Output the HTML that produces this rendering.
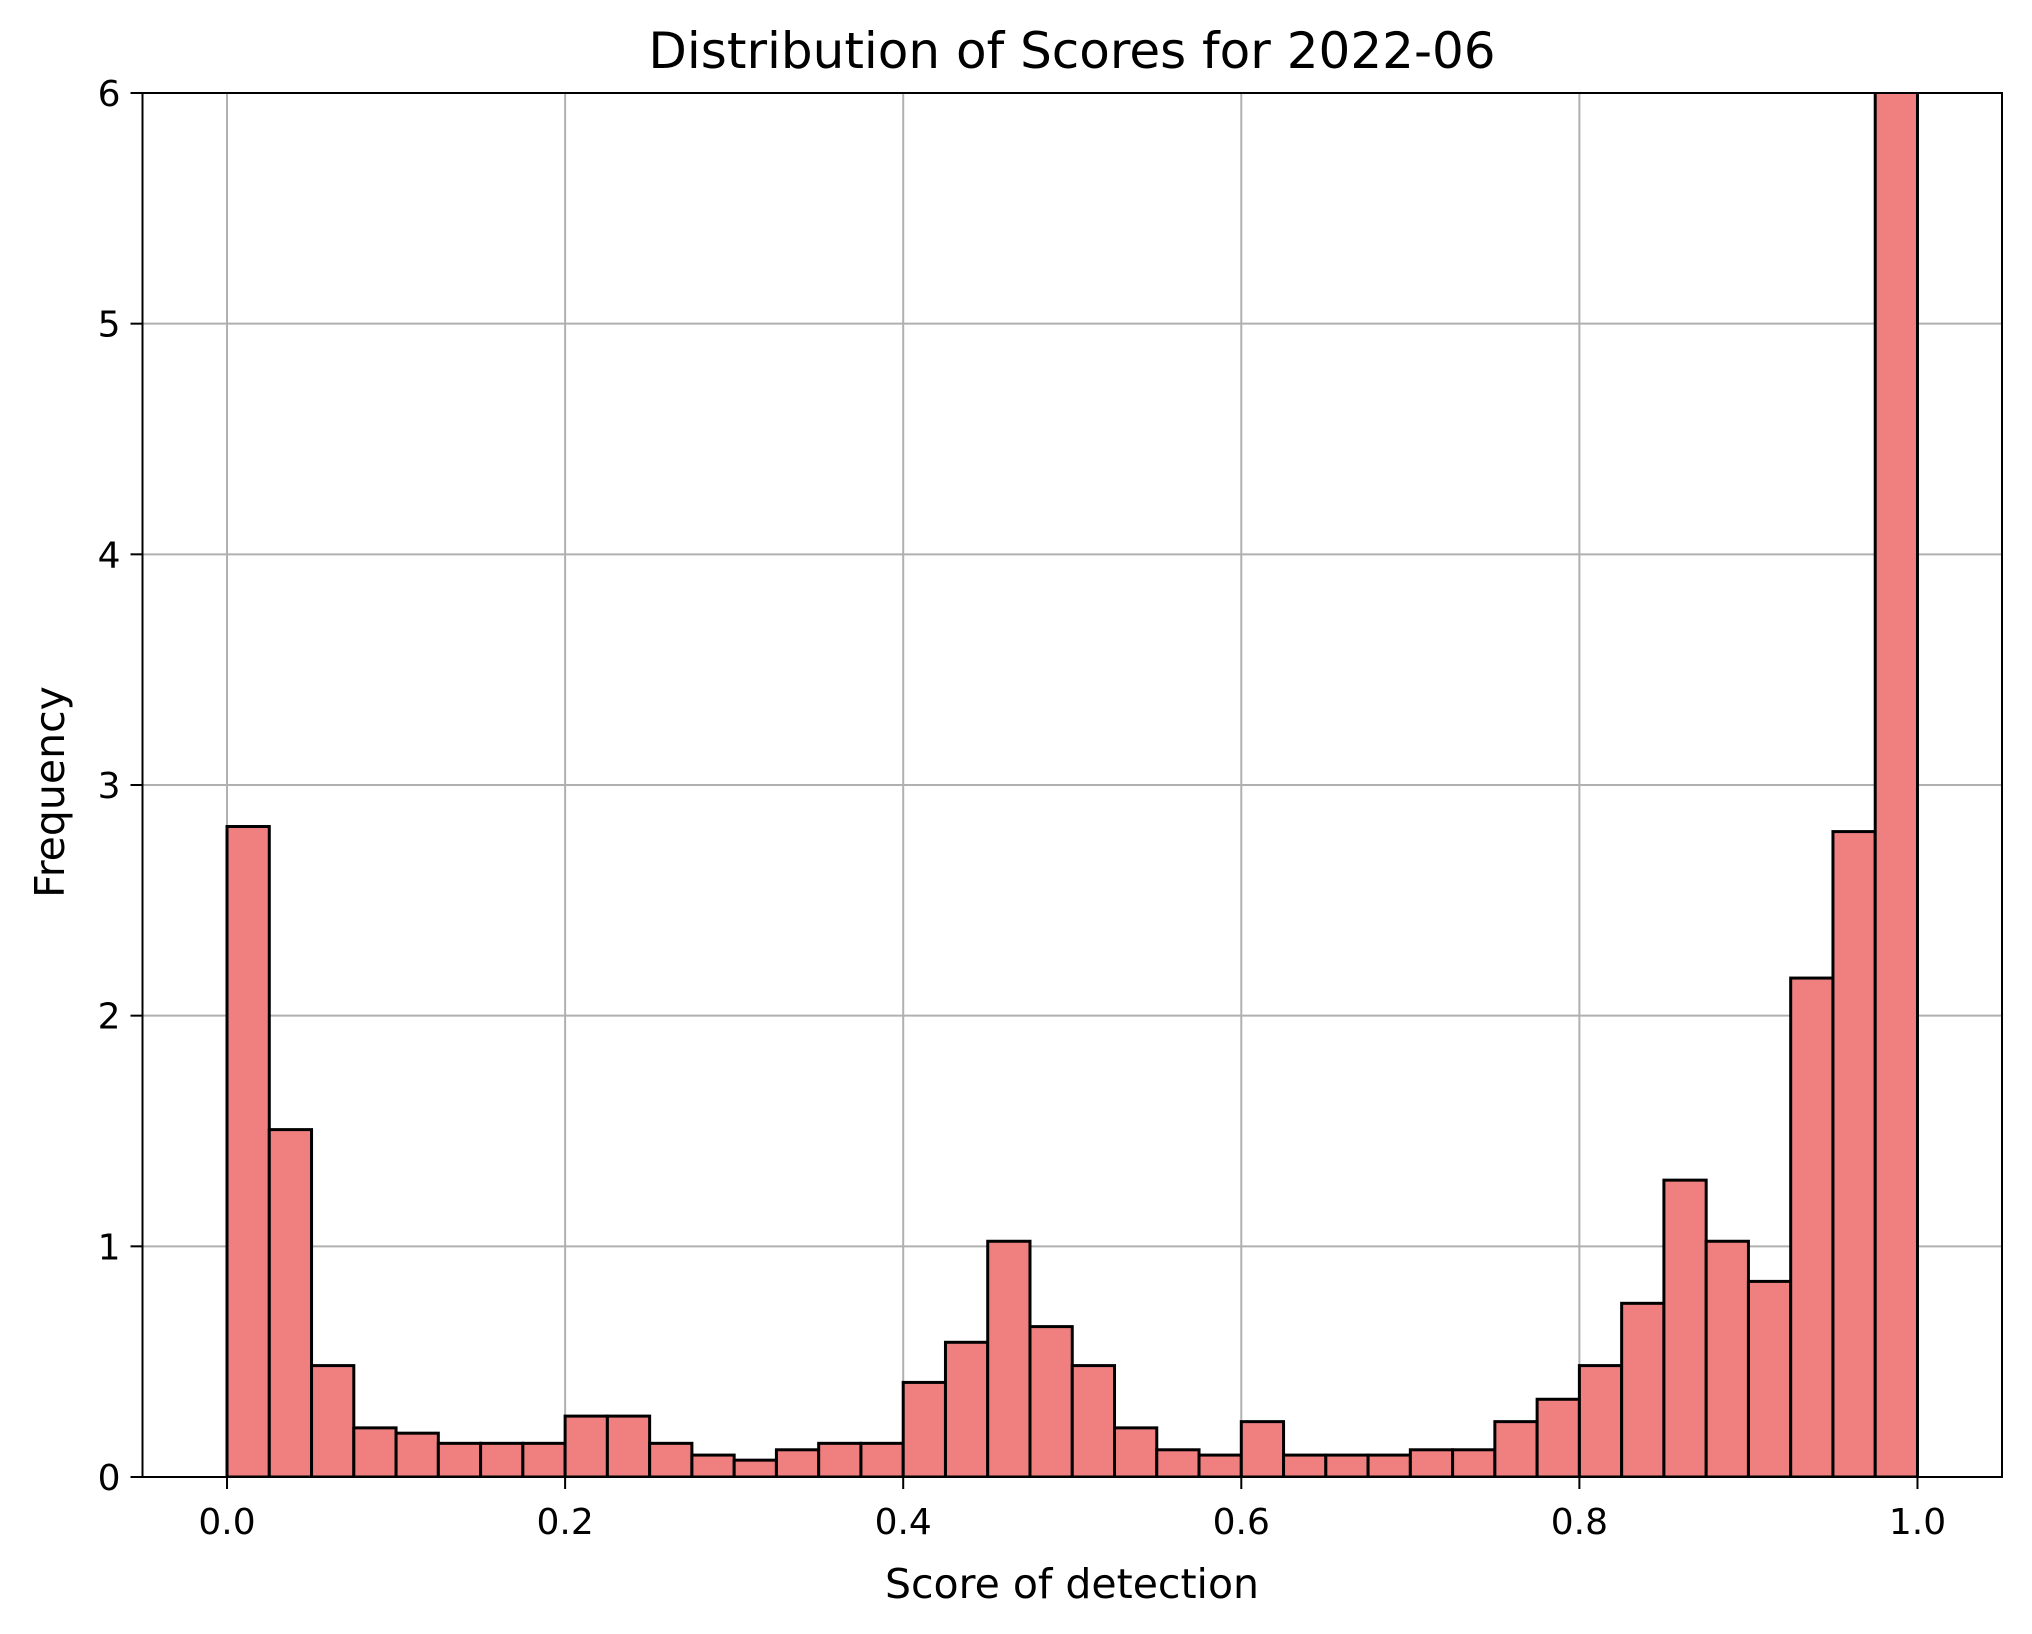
<!DOCTYPE html>
<html><head><meta charset="utf-8"><style>
html,body{margin:0;padding:0;background:#fff;}
svg{display:block;font-family:"DejaVu Sans","Liberation Sans",sans-serif;}
</style></head><body>
<svg id="chart" width="2032" height="1634" viewBox="0 0 2032 1634">
<rect x="0" y="0" width="2032" height="1634" fill="#fff"/>
<text x="1072" y="68" font-size="50" text-anchor="middle" fill="#000">Distribution of Scores for 2022-06</text>
<g id="grid"></g>
<g id="bars"></g>
<g id="axes"></g>
<text x="1072" y="1598" font-size="41" text-anchor="middle">Score of detection</text>
<text x="0" y="0" font-size="41" text-anchor="middle" transform="translate(64,792) rotate(-90)">Frequency</text>
</svg>
<script>
const binStart = 0, binWidth = 0.025;
const freqs = [2.82,1.506,0.483,0.213,0.19,0.146,0.146,0.146,0.264,0.264,0.146,0.095,0.073,0.118,0.146,0.146,0.41,0.584,1.022,0.652,0.483,0.213,0.118,0.095,0.24,0.095,0.095,0.095,0.118,0.118,0.24,0.337,0.483,0.753,1.287,1.022,0.848,2.163,2.798,9.0];
const xTicks = [0,0.2,0.4,0.6,0.8,1.0];
const xTickLabels = ["0.0","0.2","0.4","0.6","0.8","1.0"];
const yTicks = [0,1,2,3,4,5,6];
const yTickLabels = ["0","1","2","3","4","5","6"];

const L=142.5,R=2002,T=93,B=1477;
const xMin=-0.05,xMax=1.05,yMin=0,yMax=6;
const sx=v=>L+(v-xMin)/(xMax-xMin)*(R-L);
const sy=v=>B-(v-yMin)/(yMax-yMin)*(B-T);
const NS="http://www.w3.org/2000/svg";
function mk(tag,attrs,parent){const e=document.createElementNS(NS,tag);for(const k in attrs)e.setAttribute(k,attrs[k]);parent.appendChild(e);return e;}
const grid=document.getElementById('grid'),bars=document.getElementById('bars'),axes=document.getElementById('axes');
xTicks.forEach((t,i)=>{
  const g=mk('line',{x1:sx(t),x2:sx(t),y1:T,y2:B,stroke:'#b0b0b0','stroke-width':2},grid);
  
  
  mk('line',{x1:sx(t),x2:sx(t),y1:B,y2:B+12,stroke:'#000','stroke-width':2},axes);
  const tx=mk('text',{x:sx(t),y:B+57,'font-size':36,'text-anchor':'middle'},axes);
  tx.textContent=xTickLabels[i];
  
  
});
yTicks.forEach((t,i)=>{
  const g=mk('line',{x1:L,x2:R,y1:sy(t),y2:sy(t),stroke:'#b0b0b0','stroke-width':2},grid);
  
  
  mk('line',{x1:L-12,x2:L,y1:sy(t),y2:sy(t),stroke:'#000','stroke-width':2},axes);
  const tx=mk('text',{x:L-22,y:sy(t)+13,'font-size':36,'text-anchor':'end'},axes);
  tx.textContent=yTickLabels[i];
  
  
});
mk('clipPath',{id:'clip'},bars);
mk('rect',{x:L,y:T,width:R-L,height:B-T},document.getElementById('clip'));
const bg=mk('g',{'clip-path':'url(#clip)'},bars);
freqs.forEach((f,i)=>{
  const x0=sx(binStart+i*binWidth),x1=sx(binStart+(i+1)*binWidth);
  const r=mk('rect',{x:x0,y:sy(f),width:x1-x0,height:B-sy(f),fill:'#f08080',stroke:'#000','stroke-width':3},bg);
  
  
});
const fr=mk('rect',{x:L,y:T,width:R-L,height:B-T,fill:'none',stroke:'#000','stroke-width':2},axes);


</script>
</body></html>
